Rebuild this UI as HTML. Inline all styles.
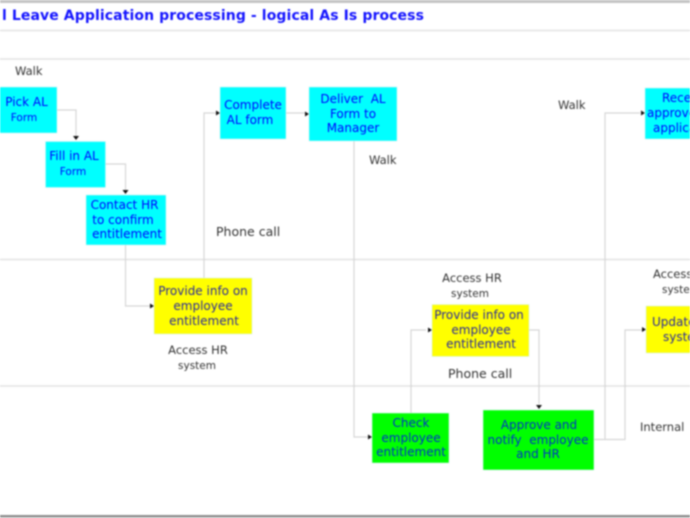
<!DOCTYPE html>
<html>
<head>
<meta charset="utf-8">
<style>
html,body{margin:0;padding:0;background:#fff;width:690px;height:518px;overflow:hidden}
svg{display:block;filter:blur(0.7px)}
text{font-family:"DejaVu Sans",sans-serif;font-size:12px;text-anchor:middle}
.b{fill:#0000ff}
.y{fill:#2a2a9a}
.g{fill:#0030c8}
.l{fill:#333;text-anchor:start;font-size:11.500px}
.c{fill:#333;font-size:11.500px}
.s{text-anchor:start}
.ln{stroke:#d6d6d6;stroke-width:1.2;fill:none}
.bd{stroke:#e2e2e2;stroke-width:1.5;fill:none}
.ah{fill:#111}
</style>
</head>
<body>
<svg width="690" height="518" viewBox="0 0 690 518" xmlns="http://www.w3.org/2000/svg">
<rect x="0" y="0" width="690" height="3" fill="#c4c4c4"/>
<rect x="0" y="515" width="690" height="2.500" fill="#8f8f8f"/>
<path class="bd" d="M0 30.500H690M0 59H690M0 259.500H690M0 386H690"/>

<text x="213" y="20" style="font-size:14px;font-weight:bold;letter-spacing:.1px" fill="#1414ff">l Leave Application processing - logical As Is process</text>

<!-- connectors -->
<path class="ln" d="M57 110H76V136M105 164H125.500V190M125.500 245V306H150M204 278V113H216M286 113H305M354 141V437H368M411 413V330H426M529 330H539V404M594 439.500H625V330H642M605 439.500V113H640"/>
<path class="ah" d="M73 136H79L76 140ZM122.500 190H128.500L125.500 194ZM150 303.500V308.500L154 306ZM216 110.500V115.500L220 113ZM305 111.500V116.500L309 114ZM368 434.500V439.500L372 437ZM428 327.500V332.500L432 330ZM536 405H542L539 409ZM642 327V332L646 329.500ZM641 110.500V115.500L645 113Z"/>

<!-- boxes -->
<g stroke="#d6f4f4" stroke-width=".6">
<rect x="-2" y="87" width="59" height="46" fill="#00ffff"/>
<rect x="45.500" y="141.500" width="60" height="46" fill="#00ffff"/>
<rect x="86" y="195" width="80" height="50" fill="#00ffff"/>
<rect x="220" y="87" width="66" height="52" fill="#00ffff"/>
<rect x="309" y="87" width="88" height="54" fill="#00ffff"/>
<rect x="645" y="88" width="50" height="51" fill="#00ffff"/>
<rect x="154" y="278" width="98" height="56" fill="#ffff00"/>
<rect x="432" y="304.500" width="97" height="52" fill="#ffff00"/>
<rect x="646" y="306" width="50" height="47" fill="#ffff00"/>
<rect x="372" y="413" width="77" height="50" fill="#00ff00"/>
<rect x="483" y="410" width="111" height="60" fill="#00ff00"/>
</g>

<!-- box text -->
<text class="b" x="26.500" y="106">Pick AL</text>
<text class="b" x="24" y="121" style="font-size:10.500px">Form</text>
<text class="b" x="74" y="160">Fill in AL</text>
<text class="b" x="73" y="175" style="font-size:10.500px">Form</text>
<text class="b" x="124.500" y="209">Contact HR</text>
<text class="b" x="123" y="224">to confirm</text>
<text class="b" x="127" y="238">entitlement</text>
<text class="b" x="253" y="109">Complete</text>
<text class="b" x="250" y="124">AL form</text>
<text class="b" x="353" y="103">Deliver&#160;&#160;AL</text>
<text class="b" x="353" y="118">Form to</text>
<text class="b" x="353" y="132">Manager</text>
<text class="b s" x="662" y="102">Receive</text>
<text class="b s" x="647" y="117">approved</text>
<text class="b s" x="653" y="132">application</text>
<text class="y" x="203" y="295">Provide info on</text>
<text class="y" x="203" y="310">employee</text>
<text class="y" x="204" y="325">entitlement</text>
<text class="y" x="479" y="319">Provide info on</text>
<text class="y" x="481" y="334">employee</text>
<text class="y" x="481" y="348">entitlement</text>
<text class="y s" x="652" y="326">Update</text>
<text class="y s" x="663" y="341">system</text>
<text class="g" x="411" y="427">Check</text>
<text class="g" x="411" y="442">employee</text>
<text class="g" x="411" y="456">entitlement</text>
<text class="g" x="539" y="429">Approve and</text>
<text class="g" x="538" y="444">notify&#160;&#160;employee</text>
<text class="g" x="538" y="458">and HR</text>

<!-- labels -->
<text class="l" x="15" y="75">Walk</text>
<text class="l" x="216" y="236" style="font-size:12.500px">Phone call</text>
<text class="l" x="369" y="164">Walk</text>
<text class="l" x="558" y="109">Walk</text>
<text class="c" x="198" y="354">Access HR</text>
<text class="c" x="197" y="369" style="font-size:10.500px">system</text>
<text class="c" x="472" y="282">Access HR</text>
<text class="c" x="470" y="297" style="font-size:10.500px">system</text>
<text class="l" x="448" y="378" style="font-size:12.500px">Phone call</text>
<text class="l" x="653" y="278">Access HR</text>
<text class="l" x="662" y="293" style="font-size:10.500px">system</text>
<text class="l" x="640" y="431">Internal</text>
</svg>
</body>
</html>
